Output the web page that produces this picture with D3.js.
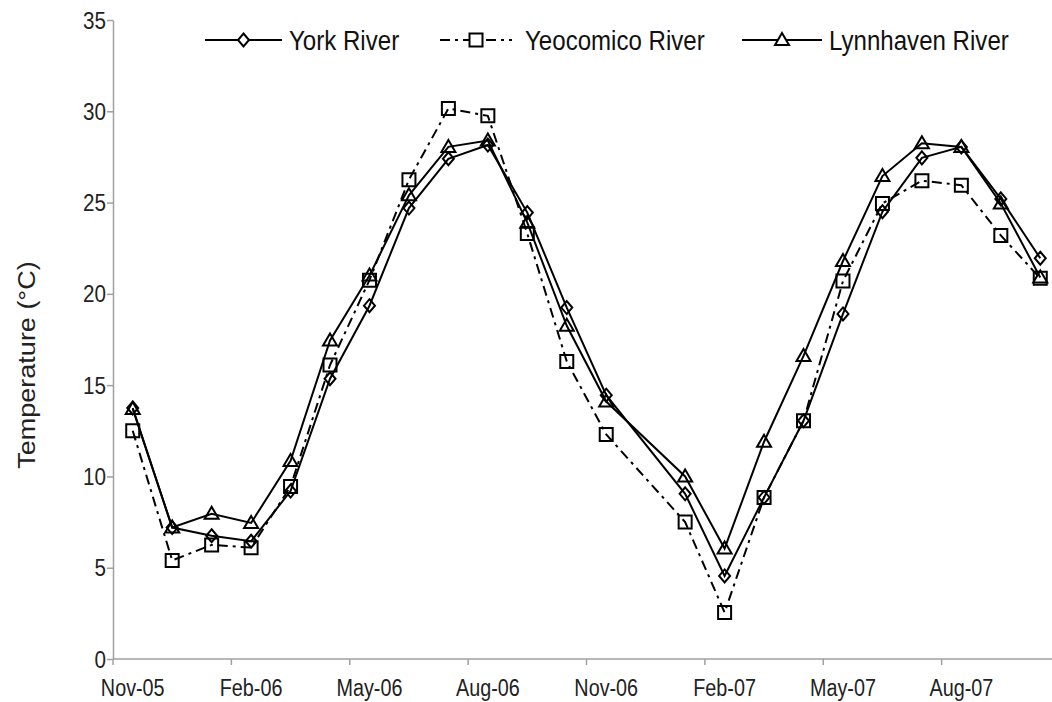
<!DOCTYPE html>
<html>
<head>
<meta charset="utf-8">
<script src="https://cdn.jsdelivr.net/npm/d3@7"></script>
<style>
  body { margin: 0; background: #fff; }
  svg { display: block; }
</style>
</head>
<body>
<div id="chart"></div>
<script>
// months on the axis (Excel-style month slots, labels every 3rd)
const axisMonths = ['Nov-05', 'Dec-05', 'Jan-06', 'Feb-06', 'Mar-06', 'Apr-06', 'May-06', 'Jun-06',
    'Jul-06', 'Aug-06', 'Sep-06', 'Oct-06', 'Nov-06', 'Dec-06', 'Jan-07', 'Feb-07', 'Mar-07',
    'Apr-07', 'May-07', 'Jun-07', 'Jul-07', 'Aug-07', 'Sep-07', 'Oct-07'];
const tickMonths = ['Nov-05', 'Feb-06', 'May-06', 'Aug-06', 'Nov-06', 'Feb-07', 'May-07', 'Aug-07'];

// sampling months (no sample in Dec-06)
const sampleMonths = ['Nov-05', 'Dec-05', 'Jan-06', 'Feb-06', 'Mar-06', 'Apr-06', 'May-06', 'Jun-06',
    'Jul-06', 'Aug-06', 'Sep-06', 'Oct-06', 'Nov-06', 'Jan-07', 'Feb-07', 'Mar-07',
    'Apr-07', 'May-07', 'Jun-07', 'Jul-07', 'Aug-07', 'Sep-07', 'Oct-07'];

const york = [13.75, 7.2, 6.75, 6.45, 9.2, 15.35, 19.35, 24.7, 27.4, 28.15, 24.45, 19.25, 14.45,
    9.05, 4.55, 8.85, 13.05, 18.9, 24.5, 27.45, 28.05, 25.2, 21.95];
const yeocomico = [12.5, 5.4, 6.25, 6.1, 9.45, 16.1, 20.75, 26.25, 30.15, 29.75, 23.3, 16.3, 12.3,
    7.5, 2.55, 8.85, 13.05, 20.7, 24.95, 26.2, 25.95, 23.2, 20.85];
const lynnhaven = [13.7, 7.2, 7.95, 7.45, 10.85, 17.45, 21.0, 25.4, 28.05, 28.4, 23.9, 18.25, 14.1,
    10.0, 6.05, 11.9, 16.6, 21.8, 26.45, 28.25, 28.05, 24.95, 20.9];

const yTicks = [0, 5, 10, 15, 20, 25, 30, 35];

const seriesNames = ['York River', 'Yeocomico River', 'Lynnhaven River'];

const width = 1052, height = 702;
const plotLeft = 113, plotRight = 1060, plotTop = 20, plotBottom = 659;
const squeeze = 0.86; // the figure is a bit narrow horizontally
const font = 'Liberation Sans, Arial, sans-serif';

const svg = d3.select('#chart').append('svg')
    .attr('width', width)
    .attr('height', height)
    .style('background', '#fff');

const x = d3.scaleBand().domain(axisMonths).range([plotLeft, plotRight]);
const y = d3.scaleLinear().domain([0, 35]).range([plotBottom, plotTop]);
const cx = (m) => x(m) + x.bandwidth() / 2;

const markers = {
    diamond: 'M0,-6.5L5.5,0L0,6.5L-5.5,0Z',
    square: 'M-6.5,-6.5H6.5V6.5H-6.5Z',
    triangle: 'M0,-7L7,5H-7Z'
};

const series = [
    { name: seriesNames[0], values: york, marker: 'diamond', dash: null },
    { name: seriesNames[1], values: yeocomico, marker: 'square', dash: '10,5,3,5' },
    { name: seriesNames[2], values: lynnhaven, marker: 'triangle', dash: null }
];

// y axis
const yAxis = svg.append('g')
    .attr('transform', `translate(${plotLeft},0)`)
    .call(d3.axisLeft(y).tickValues(yTicks).tickSize(6).tickSizeOuter(0).tickPadding(7));
yAxis.select('.domain').attr('stroke', '#a0a0a0').attr('stroke-width', 1.5);
yAxis.selectAll('.tick line').attr('stroke', '#a0a0a0').attr('stroke-width', 1.5);
yAxis.selectAll('.tick text')
    .attr('x', null).attr('dy', null)
    .attr('transform', `translate(-7,8) scale(${squeeze},1)`)
    .attr('font-family', font)
    .attr('font-size', 24)
    .attr('fill', '#222');

// x axis
const xAxis = svg.append('g');
xAxis.append('line')
    .attr('x1', plotLeft).attr('x2', plotRight)
    .attr('y1', plotBottom).attr('y2', plotBottom)
    .attr('stroke', '#a0a0a0').attr('stroke-width', 1.5);
xAxis.selectAll('.xtick')
    .data(tickMonths)
    .enter()
    .append('line')
    .attr('x1', (d) => x(d)).attr('x2', (d) => x(d))
    .attr('y1', plotBottom).attr('y2', plotBottom + 6)
    .attr('stroke', '#a0a0a0').attr('stroke-width', 1.5);
xAxis.selectAll('.xlabel')
    .data(tickMonths)
    .enter()
    .append('text')
    .attr('transform', (d) => `translate(${cx(d)},696) scale(${squeeze},1)`)
    .attr('text-anchor', 'middle')
    .attr('font-family', font)
    .attr('font-size', 23)
    .attr('fill', '#222')
    .text((d) => d);

// y title
svg.append('text')
    .attr('transform', `translate(35,365) rotate(-90) scale(1,${squeeze})`)
    .attr('text-anchor', 'middle')
    .attr('font-family', font)
    .attr('font-size', 27)
    .attr('fill', '#222')
    .text('Temperature (°C)');

// lines + markers
const line = d3.line()
    .x((d) => cx(d.month))
    .y((d) => y(d.value));

series.forEach((s) => {
    const pts = sampleMonths.map((m, i) => ({ month: m, value: s.values[i] }));
    svg.append('path')
        .datum(pts)
        .attr('d', line)
        .attr('fill', 'none')
        .attr('stroke', '#000')
        .attr('stroke-width', 2)
        .attr('stroke-dasharray', s.dash);
    svg.append('g')
        .selectAll('path')
        .data(pts)
        .enter()
        .append('path')
        .attr('d', markers[s.marker])
        .attr('transform', (d) => `translate(${cx(d.month)},${y(d.value)})`)
        .attr('fill', 'none')
        .attr('stroke', '#000')
        .attr('stroke-width', 2);
});

// legend
const legendItems = [
    { x0: 205, x1: 282, text: 289 },
    { x0: 440, x1: 512, text: 525 },
    { x0: 742, x1: 822, text: 829 }
];
const legend = svg.append('g');
series.forEach((s, i) => {
    const li = legendItems[i];
    legend.append('line')
        .attr('x1', li.x0).attr('x2', li.x1)
        .attr('y1', 40).attr('y2', 40)
        .attr('stroke', '#000')
        .attr('stroke-width', 2)
        .attr('stroke-dasharray', s.dash);
    legend.append('path')
        .attr('d', markers[s.marker])
        .attr('transform', `translate(${(li.x0 + li.x1) / 2},40)`)
        .attr('fill', '#fff')
        .attr('stroke', '#000')
        .attr('stroke-width', 2);
    legend.append('text')
        .attr('transform', `translate(${li.text},50) scale(${squeeze},1)`)
        .attr('font-family', font)
        .attr('font-size', 28)
        .attr('fill', '#111')
        .text(s.name);
});
</script>
</body>
</html>
